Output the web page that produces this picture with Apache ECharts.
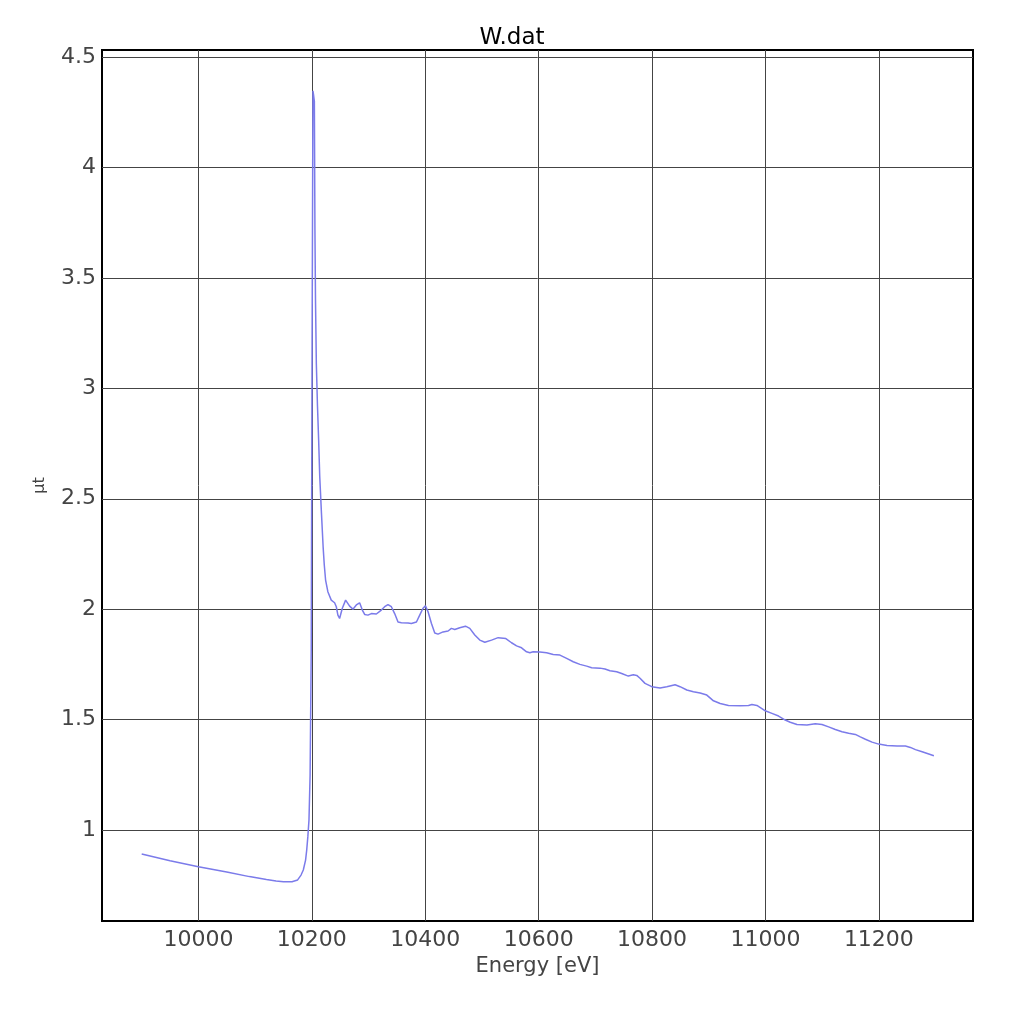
<!DOCTYPE html>
<html>
<head>
<meta charset="utf-8">
<script src="https://cdn.jsdelivr.net/npm/echarts@6/dist/echarts.min.js"></script>
<style>
html,body{margin:0;padding:0;background:#fff;}
#c{width:1024px;height:1024px;}
</style>
</head>
<body>
<div id="c"></div>
<script>
const titleText = 'W.dat';
const xName = 'Energy [eV]';
const yName = 'μt';
const xTicks = [10000, 10200, 10400, 10600, 10800, 11000, 11200];
const yTicks = [1, 1.5, 2, 2.5, 3, 3.5, 4, 4.5];
const energy = [
  9900, 9950, 10000, 10050, 10090, 10120, 10137, 10150, 10165, 10175,
  10181, 10185, 10189, 10191, 10193, 10195, 10197, 10199, 10200.5, 10202,
  10203, 10204.5, 10205.5, 10206.5, 10208, 10210, 10212, 10214, 10217, 10220,
  10222, 10224.3, 10228.3, 10234.3, 10240.2, 10243.2, 10246, 10249, 10253.8, 10259.6,
  10266.7, 10272.5, 10278.5, 10284.3, 10289.1, 10293.2, 10299, 10305, 10313.8, 10322.6,
  10328.5, 10334.3, 10340.3, 10346.1, 10352, 10358, 10369.6, 10375.6, 10384.5, 10390.3,
  10396.1, 10400.4, 10405, 10411, 10416.8, 10422.6, 10431.4, 10440.3, 10446.2, 10452.1,
  10460.9, 10471, 10478.6, 10487.4, 10496.2, 10505.1, 10516.9, 10528.6, 10542.2, 10552.2,
  10561.1, 10569.9, 10578.7, 10584.5, 10590.4, 10602.2, 10614, 10625.7, 10637.5, 10649.4,
  10661, 10672.8, 10684.7, 10693.5, 10708.2, 10717, 10725.8, 10737.6, 10746.5, 10758.1,
  10767, 10773, 10778.8, 10787.6, 10799.5, 10814.1, 10826, 10840.6, 10849.4, 10861.3,
  10872.9, 10884.8, 10896.6, 10908.3, 10920.1, 10934.8, 10955.4, 10970.1, 10976.1, 10984.9,
  10993.7, 10999.6, 11011.4, 11023.1, 11034.9, 11043.7, 11055.6, 11073.2, 11087.9, 11099.7,
  11111.4, 11123.2, 11135, 11146.7, 11158.5, 11167.3, 11176.2, 11188, 11199.6, 11214.4,
  11232.1, 11246.8, 11255.6, 11264.5, 11276.3, 11288, 11297
];
const mut = [
  0.891, 0.861, 0.834, 0.810, 0.789, 0.776, 0.769, 0.766, 0.766, 0.774,
  0.796, 0.819, 0.864, 0.909, 0.970, 1.045, 1.25, 1.82, 3.2, 4.347,
  4.33, 4.30, 3.72, 3.40, 3.11, 2.92, 2.77, 2.60, 2.435, 2.28,
  2.20, 2.132, 2.079, 2.041, 2.029, 2.011, 1.973, 1.958, 2.004, 2.041,
  2.014, 2.000, 2.019, 2.029, 1.996, 1.976, 1.973, 1.980, 1.978, 1.996,
  2.011, 2.021, 2.011, 1.980, 1.942, 1.939, 1.937, 1.935, 1.942, 1.973,
  2.004, 2.015, 1.988, 1.935, 1.892, 1.887, 1.897, 1.901, 1.913, 1.908,
  1.916, 1.923, 1.913, 1.883, 1.860, 1.850, 1.860, 1.871, 1.867, 1.848,
  1.834, 1.825, 1.807, 1.803, 1.807, 1.806, 1.803, 1.795, 1.792, 1.777,
  1.762, 1.750, 1.742, 1.735, 1.733, 1.729, 1.721, 1.717, 1.709, 1.697,
  1.703, 1.700, 1.687, 1.664, 1.649, 1.643, 1.649, 1.658, 1.649, 1.634,
  1.626, 1.620, 1.611, 1.585, 1.573, 1.564, 1.563, 1.564, 1.568, 1.564,
  1.550, 1.540, 1.528, 1.516, 1.498, 1.488, 1.478, 1.476, 1.481, 1.478,
  1.467, 1.455, 1.445, 1.438, 1.433, 1.422, 1.411, 1.398, 1.389, 1.383,
  1.380, 1.380, 1.374, 1.364, 1.354, 1.344, 1.336
];

const font = '"DejaVu Sans", "Noto Sans", sans-serif';
const chart = echarts.init(document.getElementById('c'), null, {renderer: 'canvas'});
chart.setOption({
  backgroundColor: '#ffffff',
  animation: false,
  title: {
    text: titleText,
    left: 'center',
    top: 22,
    textStyle: {fontFamily: font, fontSize: 23, fontWeight: 'normal', color: '#000'}
  },
  grid: {
    left: 102, right: 51, top: 50, bottom: 103,
    show: true, borderColor: '#000', borderWidth: 2, backgroundColor: 'transparent'
  },
  xAxis: {
    type: 'value',
    min: 9830, max: 11366,
    name: xName,
    nameLocation: 'middle',
    nameGap: 34,
    nameTextStyle: {fontFamily: font, fontSize: 21, color: '#444'},
    axisLine: {show: false},
    axisTick: {show: false, customValues: xTicks},
    axisLabel: {
      customValues: xTicks, fontFamily: font, fontSize: 22, color: '#444', margin: 8,
      formatter: v => String(v)
    },
    splitLine: {show: true, lineStyle: {color: '#444', width: 1}}
  },
  yAxis: {
    type: 'value',
    min: 0.588, max: 4.532,
    name: yName,
    nameLocation: 'middle',
    nameGap: 54,
    nameRotate: 90,
    nameTextStyle: {fontFamily: font, fontSize: 16, color: '#444'},
    axisLine: {show: false},
    axisTick: {show: false, customValues: yTicks},
    axisLabel: {
      customValues: yTicks, fontFamily: font, fontSize: 22, color: '#444', margin: 6,
      formatter: v => String(v)
    },
    splitLine: {show: true, lineStyle: {color: '#444', width: 1}}
  },
  series: [{
    type: 'line',
    data: energy.map((e, i) => [e, mut[i]]),
    showSymbol: false,
    symbol: 'none',
    lineStyle: {color: '#7b7bea', width: 1.5},
    itemStyle: {color: '#7b7bea'},
    clip: true
  }]
});
</script>
</body>
</html>
